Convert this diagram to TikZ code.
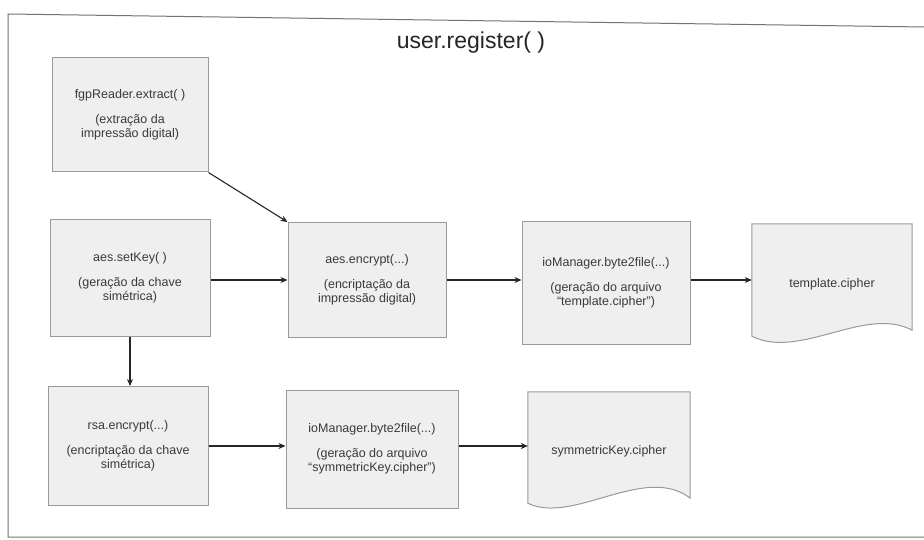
\documentclass[tikz,border=0pt]{standalone}
\usepackage{fontspec}
\setmainfont{Liberation Sans}
\usetikzlibrary{arrows.meta}
\definecolor{boxfill}{HTML}{EFEFEF}
\definecolor{boxline}{HTML}{9A9A9A}
\definecolor{ink}{HTML}{3A3A3A}
\tikzset{
  procbox/.style={draw=boxline, line width=1pt, fill=boxfill, align=center,
    inner sep=2pt, font=\fontsize{12.5}{14.5}\selectfont, text=ink},
  docbox/.style={draw=none, align=center, inner sep=0pt,
    font=\fontsize{12.5}{14.5}\selectfont, text=ink},
  docline/.style={draw=boxline, line width=1pt, fill=boxfill},
  flow/.style={draw=black!85, line width=1.1pt, -{Stealth[length=7pt,width=6pt]}},
  frame/.style={draw=black!55, line width=1pt}
}
\begin{document}
\begin{tikzpicture}[x=1pt,y=-1pt]
  \useasboundingbox (0,0) rectangle (924,540);
  \fill[white] (0,0) rectangle (924,540);
  % outer frame
  \draw[frame] (924,27) -- (8,14) -- (8,537) -- (924,537);
  \node[font=\fontsize{23}{25}\selectfont, text=black!85] (title) at (471,43) {user.register( )};

  % first row of processing steps
  \node[procbox, minimum width=156pt, minimum height=114pt] (fgp) at (130,115)
    {fgpReader.extract( )\\[10pt](extração da\\impressão digital)};
  \node[procbox, minimum width=160pt, minimum height=117pt] (setkey) at (130,278)
    {aes.setKey( )\\[10pt](geração da chave\\simétrica)};
  \node[procbox, minimum width=158pt, minimum height=115pt] (aesenc) at (367,280)
    {aes.encrypt(...)\\[10pt](encriptação da\\impressão digital)};
  \node[procbox, minimum width=168pt, minimum height=123pt] (io1) at (606,283)
    {ioManager.byte2file(...)\\[10pt](geração do arquivo\\``template.cipher'')};
  \node[docbox, minimum width=160pt, minimum height=112pt] (tmpl) at (832,280) {};

  % second row
  \node[procbox, minimum width=160pt, minimum height=119pt] (rsa) at (128,446)
    {rsa.encrypt(...)\\[10pt](encriptação da chave\\simétrica)};
  \node[procbox, minimum width=172pt, minimum height=118pt] (io2) at (372,449)
    {ioManager.byte2file(...)\\[10pt](geração do arquivo\\``symmetricKey.cipher'')};
  \node[docbox, minimum width=162pt, minimum height=111pt] (sym) at (609,447.5) {};

  % document shapes with wavy bottom edges
  \draw[docline] (tmpl.north west) -- (tmpl.north east) -- ([yshift=6pt]tmpl.south east)
    .. controls ([xshift=-47pt,yshift=31pt]tmpl.south east) and ([xshift=48pt,yshift=-24pt]tmpl.south west)
    .. (tmpl.south west) -- cycle;
  \node[docbox] at ([yshift=-4pt]tmpl.center) {template.cipher};
  \draw[docline] (sym.north west) -- (sym.north east) -- ([yshift=5pt]sym.south east)
    .. controls ([xshift=-45pt,yshift=40pt]sym.south east) and ([xshift=45pt,yshift=-22pt]sym.south west)
    .. (sym.south west) -- cycle;
  \node[docbox] at ([yshift=-4pt]sym.center) {symmetricKey.cipher};

  % connectors
  \draw[flow] (fgp.south east) -- (aesenc.north west);
  \draw[flow] (setkey.east |- aesenc.west) -- (aesenc.west);
  \draw[flow] (aesenc.east) -- (io1.west |- aesenc.east);
  \draw[flow] (io1.east |- aesenc.east) -- (tmpl.west |- aesenc.east);
  \draw[flow] (setkey.south) -- (setkey.south |- rsa.north);
  \draw[flow] (rsa.east) -- (io2.west |- rsa.east);
  \draw[flow] (io2.east |- rsa.east) -- (sym.west |- rsa.east);
\end{tikzpicture}
\end{document}
